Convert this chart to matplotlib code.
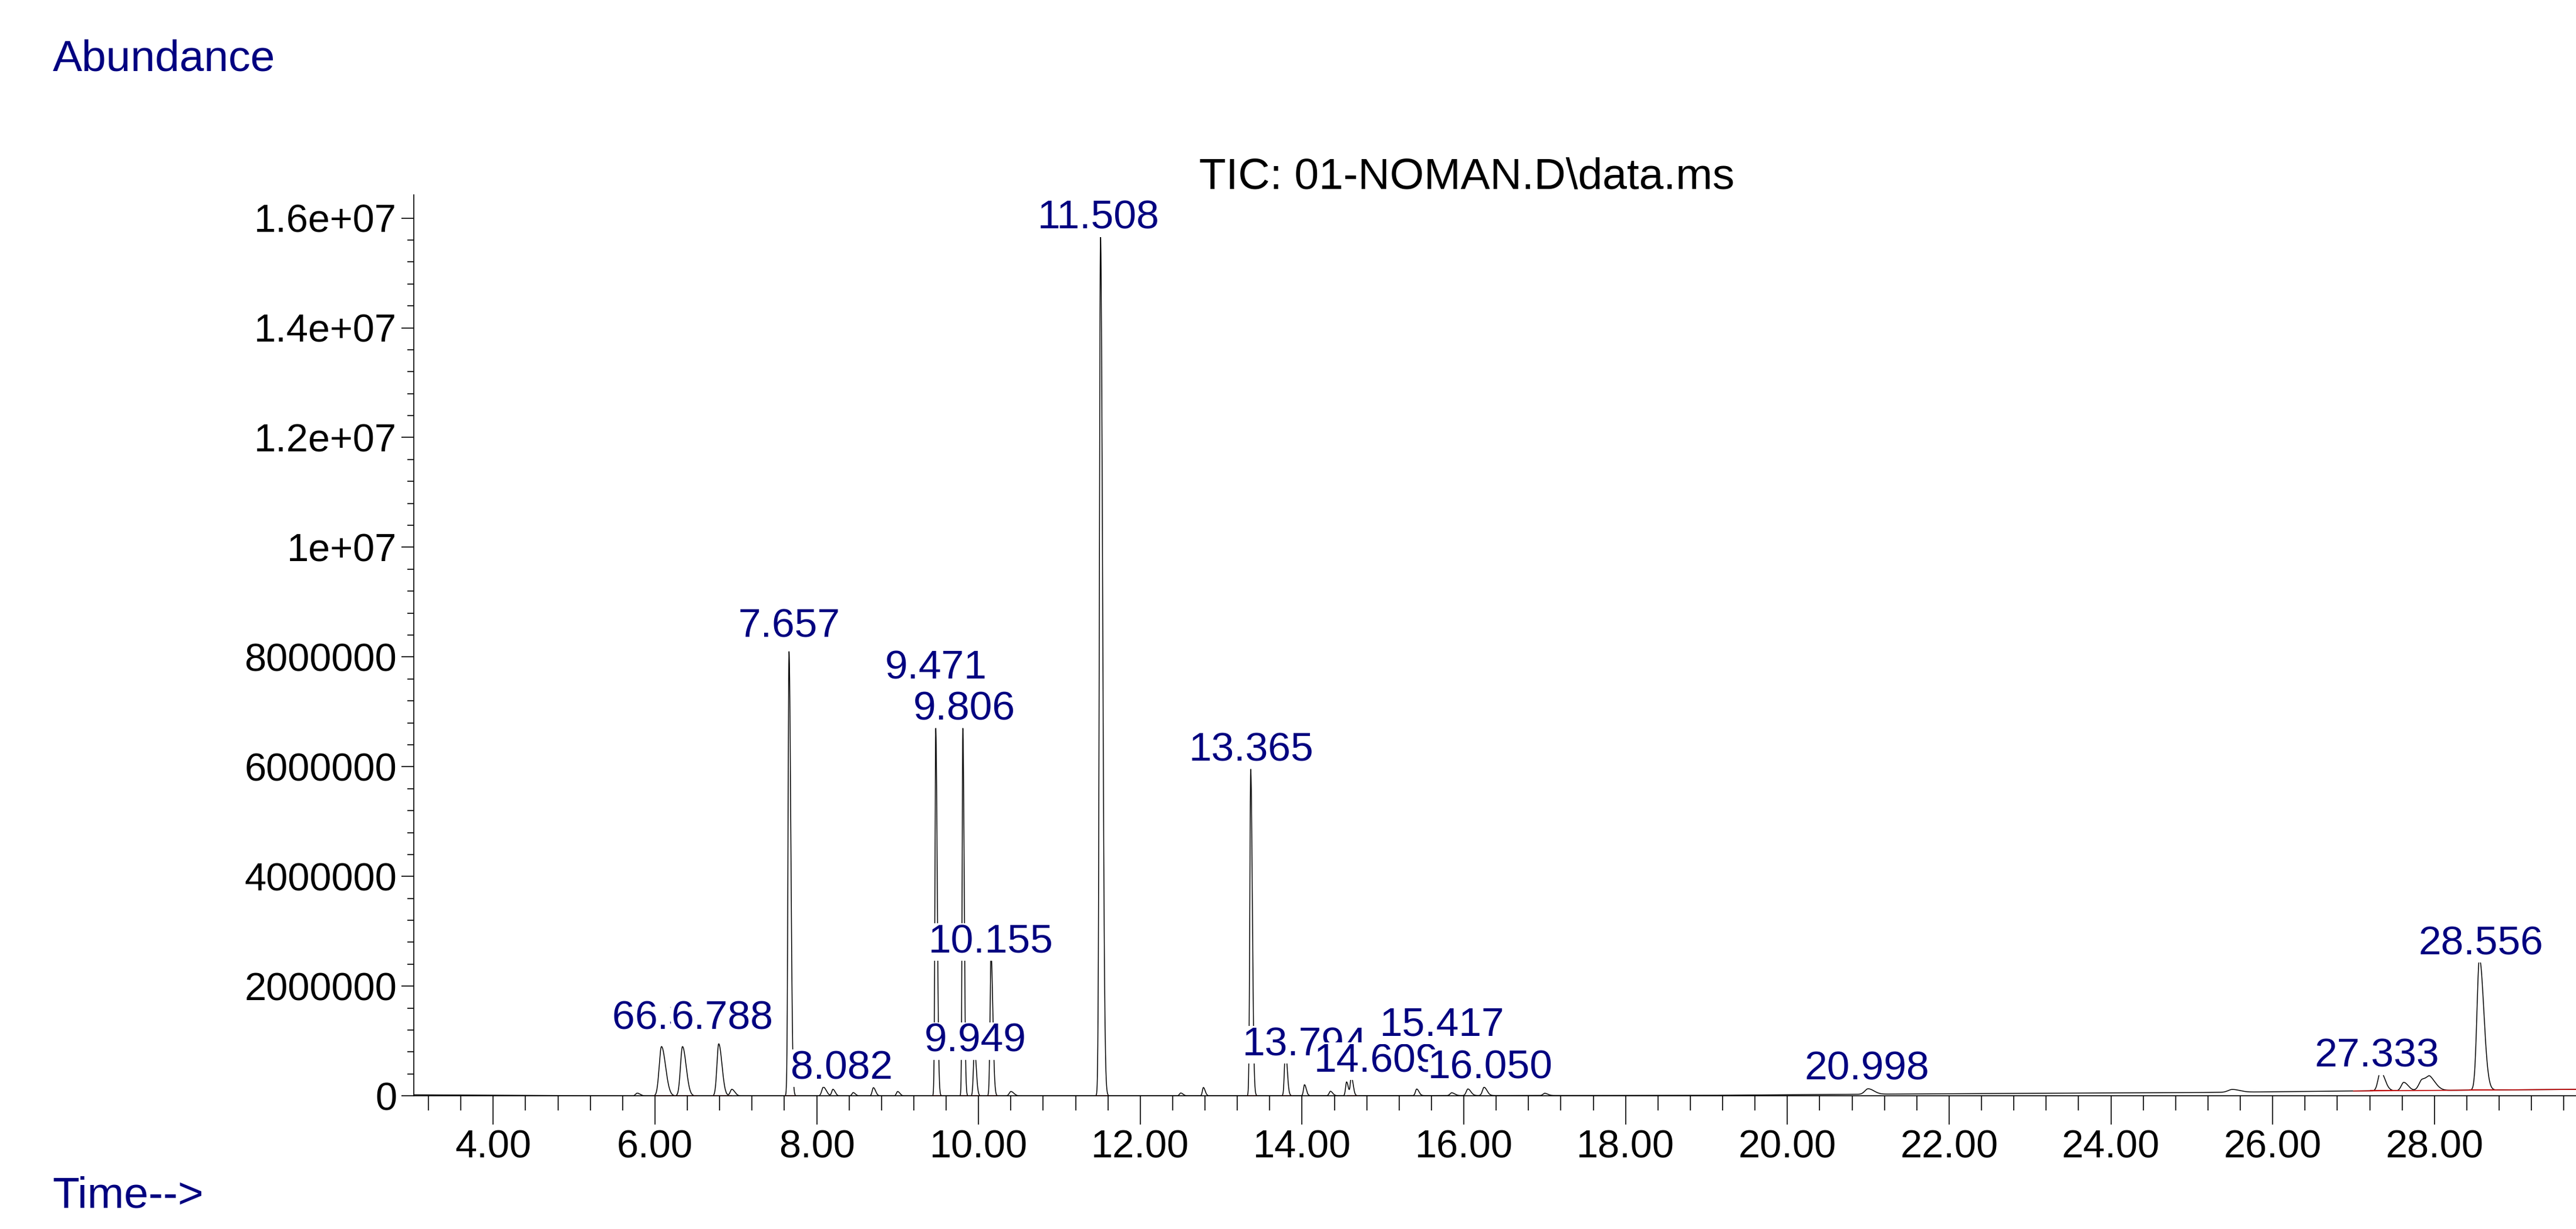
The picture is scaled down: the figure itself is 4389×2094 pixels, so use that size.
import matplotlib.pyplot as plt
import numpy as np

# ---------------------------------------------------------------------------
# Data
# ---------------------------------------------------------------------------

# retention time (min), peak height, peak width (sigma, min)
peak_times = [5.78, 6.08, 6.34, 6.788, 6.95, 7.657, 8.082, 8.20, 8.45, 8.70, 9.00,
              9.471, 9.806, 9.949, 10.155, 10.40, 11.508, 12.50, 12.78,
              13.365, 13.794, 14.03, 14.35, 14.55, 14.609, 15.417, 15.85,
              16.050, 16.25, 17.0, 20.998, 25.50, 27.333, 27.62, 27.85, 27.95, 28.556]
peak_heights = [0.05e6, 0.90e6, 0.90e6, 0.95e6, 0.12e6, 8.10e6, 0.16e6, 0.12e6,
                0.06e6, 0.15e6, 0.08e6,
                6.70e6, 6.70e6, 0.90e6, 2.60e6, 0.08e6, 1.57e7, 0.05e6, 0.15e6,
                5.95e6, 0.85e6, 0.20e6, 0.08e6, 0.25e6, 0.35e6, 0.12e6, 0.05e6,
                0.12e6, 0.15e6, 0.04e6, 0.10e6, 0.05e6, 0.35e6, 0.15e6, 0.20e6,
                0.18e6, 2.40e6]
peak_sigmas = [0.02, 0.028, 0.025, 0.022, 0.02, 0.012, 0.02, 0.015, 0.015, 0.015, 0.015,
               0.010, 0.009, 0.012, 0.012, 0.02, 0.014, 0.015, 0.012,
               0.011, 0.012, 0.012, 0.015, 0.012, 0.012, 0.015, 0.02,
               0.02, 0.02, 0.02, 0.04, 0.05, 0.03, 0.03, 0.04, 0.04, 0.03]

# slowly drifting baseline (time, level)
base_t = [3.0, 5.5, 10.0, 19.0, 22.0, 25.0, 27.0, 29.8]
base_y = [0.02e6, 0.0, 0.0, 0.01e6, 0.04e6, 0.06e6, 0.09e6, 0.12e6]

# peak labels: text, x (min), y (abundance) of label centre
label_texts = ["6.084", "6.339", "6.788", "7.657", "8.082", "9.471", "9.806",
               "10.155", "9.949", "11.508", "13.365", "13.794", "14.609",
               "15.417", "16.050", "20.998", "27.333", "28.556"]
label_x = [6.10, 6.38, 6.83, 7.66, 8.31, 9.47, 9.82, 10.15, 9.96, 11.48, 13.37,
           14.03, 14.92, 15.73, 16.33, 20.98, 27.29, 28.57]
label_y = [1.41e6, 1.41e6, 1.41e6, 8.55e6, 0.5e6, 7.8e6, 7.05e6, 2.8e6,
           1.0e6, 1.6e7, 6.3e6, 0.93e6, 0.63e6, 1.29e6, 0.51e6, 0.49e6, 0.72e6, 2.77e6]

x_ticks = [4, 6, 8, 10, 12, 14, 16, 18, 20, 22, 24, 26, 28]
y_ticks = [0, 2e6, 4e6, 6e6, 8e6, 1e7, 1.2e7, 1.4e7, 1.6e7]
y_tick_labels = ["0", "2000000", "4000000", "6000000", "8000000",
                 "1e+07", "1.2e+07", "1.4e+07", "1.6e+07"]

NAVY = "#000080"
FONT = ["Liberation Sans", "DejaVu Sans"]

plt.rcParams["font.family"] = FONT

# ---------------------------------------------------------------------------
# Trace
# ---------------------------------------------------------------------------

t = np.linspace(3.0, 29.8, 20000)
signal = np.interp(t, base_t, base_y)
for t0, h, s in zip(peak_times, peak_heights, peak_sigmas):
    # slight tailing: wider on the right side
    sig = np.where(t < t0, s, s * 1.8)
    signal += h * np.exp(-0.5 * ((t - t0) / sig) ** 2)

fig = plt.figure(figsize=(43.89, 20.94), dpi=100)
ax = fig.add_axes([0.1607, 0.1083, 0.8393, 0.733])

ax.plot(t, signal, color="black", linewidth=1.1)

# integration baseline marks
for t0, h, s in zip(peak_times, peak_heights, peak_sigmas):
    if h >= 0.3e6:
        ax.plot([t0 - 4 * s, t0 + 7 * s], [np.interp(t0, base_t, base_y)] * 2,
                color="#c00000", linewidth=1.4)
ax.plot([27.0, 29.8], [0.09e6, 0.12e6], color="#c00000", linewidth=1.2)

for txt, lx, ly in zip(label_texts, label_x, label_y):
    ax.text(lx, ly, txt, color=NAVY, fontsize=50, ha="center", va="center",
            bbox=dict(facecolor="white", edgecolor="none", pad=0))

ax.set_xlim(3.02, 29.75)
ax.set_ylim(0, 1.642e7)
ax.set_xticks(x_ticks)
ax.set_xticklabels([f"{v:.2f}" for v in x_ticks])
ax.set_xticks(np.arange(3.2, 29.7, 0.4), minor=True)
ax.set_yticks(y_ticks)
ax.set_yticklabels(y_tick_labels)
ax.set_yticks(np.arange(0, 1.64e7, 0.4e6), minor=True)

ax.tick_params(axis="both", which="major", labelsize=48, width=1.2, direction="out")
ax.tick_params(axis="x", which="major", length=35, pad=6)
ax.tick_params(axis="y", which="major", length=15, pad=6)
ax.tick_params(axis="x", which="minor", length=18, width=1.2)
ax.tick_params(axis="y", which="minor", length=8, width=1.2)

for side in ["top", "right"]:
    ax.spines[side].set_visible(False)
for side in ["left", "bottom"]:
    ax.spines[side].set_linewidth(1.2)

fig.text(32 / 1568, 1 - 36 / 748, "Abundance", color=NAVY, fontsize=54, va="center")
fig.text(32 / 1568, 1 - 728 / 748, "Time-->", color=NAVY, fontsize=54, va="center")
fig.text(893 / 1568, 1 - 108 / 748, "TIC: 01-NOMAN.D\\data.ms", color="black",
         fontsize=54, ha="center", va="center")

fig.savefig("out.png", dpi=100)
